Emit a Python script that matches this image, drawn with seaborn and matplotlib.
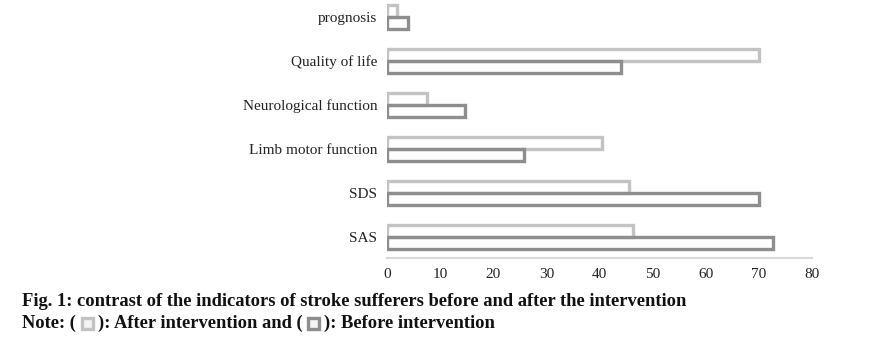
import matplotlib
matplotlib.use("Agg")
import matplotlib.pyplot as plt
from matplotlib.patches import Rectangle
import seaborn as sns
import pandas as pd

# Indicator scores before and after the intervention
indicators = ["prognosis", "Quality of life", "Neurological function",
              "Limb motor function", "SDS", "SAS"]
after_scores = [1.8, 70, 7.5, 40.5, 45.5, 46.3]
before_scores = [4.0, 44, 14.6, 25.8, 70, 72.7]
groups = ["After intervention", "Before intervention"]
x_ticks = [0, 10, 20, 30, 40, 50, 60, 70, 80]

caption = "Fig. 1: contrast of the indicators of stroke sufferers before and after the intervention"

df = pd.DataFrame({
    "Indicator": indicators * 2,
    "Score": after_scores + before_scores,
    "Group": [groups[0]] * len(indicators) + [groups[1]] * len(indicators),
})

sns.set_style("white")
plt.rcParams["font.family"] = ["Liberation Serif", "DejaVu Serif"]

W, H = 878, 338
fig = plt.figure(figsize=(W / 100, H / 100), dpi=100)
ax = fig.add_axes([387 / W, 1 - 258 / H, 425 / W, 258 / H])

light, dark = "#c3c3c3", "#8e8e8e"
sns.barplot(data=df, y="Indicator", x="Score", hue="Group", order=indicators,
            hue_order=groups, orient="h", width=0.56, gap=0, fill=False,
            palette=[light, dark], linewidth=2.4, legend=False, ax=ax)

ax.set_xlim(0, 80)
ax.set_ylim(5.48, -0.39)
ax.set_xticks(x_ticks)
ax.set_xticklabels([str(t) for t in x_ticks])
ax.set_xlabel("")
ax.set_ylabel("")
for side in ["top", "right", "left"]:
    ax.spines[side].set_visible(False)
ax.spines["bottom"].set_color("#d9d9d9")
ax.spines["bottom"].set_linewidth(1.5)
ax.tick_params(axis="both", length=0, labelsize=11, colors="#222222")
ax.tick_params(axis="x", pad=7)
ax.tick_params(axis="y", pad=7)

# Caption and note lines under the chart
txt_kw = dict(fontsize=13.3, fontweight="bold", color="#111111", va="center")
fig.text(22 / W, 1 - 301 / H, caption, **txt_kw)

fig.canvas.draw()
renderer = fig.canvas.get_renderer()
y_note = 1 - 323 / H
x = 22.0


def put_text(s, x):
    t = fig.text(x / W, y_note, s, **txt_kw)
    bb = t.get_window_extent(renderer)
    return bb.x1


def put_box(color, x):
    size = 11
    fig.patches.append(Rectangle(((x + 4) / W, (H - 323 - size / 2) / H),
                                 size / W, size / H, transform=fig.transFigure,
                                 facecolor="#f4f4f4", edgecolor=color,
                                 linewidth=2.4, figure=fig))
    return x + size + 9


x = put_text("Note: (", x)
x = put_box(light, x + 2)
x = put_text("): After intervention and (", x)
x = put_box(dark, x + 2)
x = put_text("): Before intervention", x)

fig.savefig("out.png", dpi=100, facecolor="white")
